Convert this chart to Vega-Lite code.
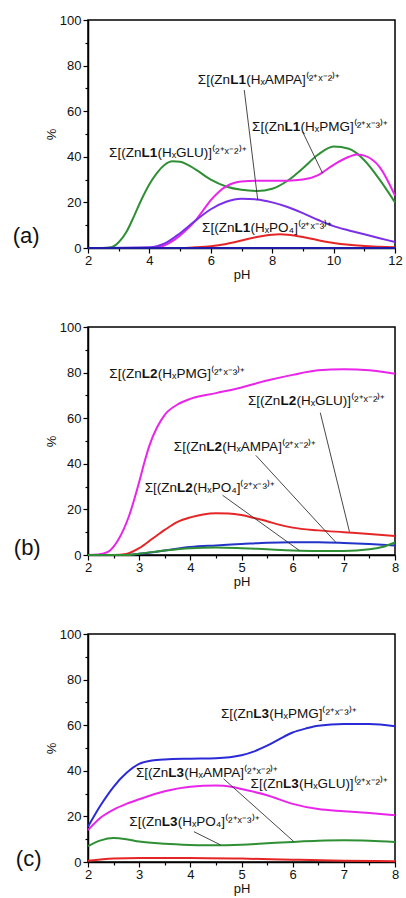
{
  "$schema": "https://vega.github.io/schema/vega-lite/v6.json",
  "padding": {"left": 12, "top": 13, "right": 2, "bottom": 2},
  "spacing": 38,
  "resolve": {"scale": {"color": "independent", "x": "independent", "y": "independent"}},
  "config": {
    "font": "Liberation Sans",
    "view": {"stroke": "#000", "strokeWidth": 1.5},
    "axis": {"domainColor": "#000", "domainWidth": 1.5, "tickColor": "#000", "tickWidth": 1.2, "labelFont": "Liberation Sans", "labelFontSize": 13, "labelColor": "#111", "titleFont": "Liberation Sans", "titleFontSize": 13, "titleFontWeight": "normal", "titleColor": "#111", "grid": false, "labelFlush": false, "labelOverlap": false},
    "axisX": {"labelPadding": 1, "titlePadding": 1},
    "axisY": {"labelPadding": 2, "titlePadding": 1},
    "text": {"font": "Liberation Sans", "color": "#111", "baseline": "alphabetic"}
  },
  "datasets": {
    "curvesA": [
      {"s": "GLU", "pH": 2, "pct": 0}, {"s": "GLU", "pH": 2.5, "pct": 0}, {"s": "GLU", "pH": 2.75, "pct": 0.3}, {"s": "GLU", "pH": 3, "pct": 2.5}, {"s": "GLU", "pH": 3.25, "pct": 7}, {"s": "GLU", "pH": 3.5, "pct": 14}, {"s": "GLU", "pH": 3.75, "pct": 21.5}, {"s": "GLU", "pH": 4, "pct": 28}, {"s": "GLU", "pH": 4.25, "pct": 33}, {"s": "GLU", "pH": 4.5, "pct": 36.5}, {"s": "GLU", "pH": 4.75, "pct": 38}, {"s": "GLU", "pH": 5, "pct": 37.8}, {"s": "GLU", "pH": 5.25, "pct": 36.5}, {"s": "GLU", "pH": 5.5, "pct": 34.5}, {"s": "GLU", "pH": 6, "pct": 30}, {"s": "GLU", "pH": 6.5, "pct": 27}, {"s": "GLU", "pH": 7, "pct": 25.5}, {"s": "GLU", "pH": 7.5, "pct": 25}, {"s": "GLU", "pH": 8, "pct": 26}, {"s": "GLU", "pH": 8.5, "pct": 29.5}, {"s": "GLU", "pH": 9, "pct": 35}, {"s": "GLU", "pH": 9.5, "pct": 41}, {"s": "GLU", "pH": 10, "pct": 44.5}, {"s": "GLU", "pH": 10.5, "pct": 43.5}, {"s": "GLU", "pH": 11, "pct": 38.5}, {"s": "GLU", "pH": 11.5, "pct": 30}, {"s": "GLU", "pH": 12, "pct": 20},
      {"s": "PMG", "pH": 2, "pct": 0}, {"s": "PMG", "pH": 4, "pct": 0}, {"s": "PMG", "pH": 4.25, "pct": 0.3}, {"s": "PMG", "pH": 4.5, "pct": 1.2}, {"s": "PMG", "pH": 4.75, "pct": 3}, {"s": "PMG", "pH": 5, "pct": 5.5}, {"s": "PMG", "pH": 5.25, "pct": 8.5}, {"s": "PMG", "pH": 5.5, "pct": 12}, {"s": "PMG", "pH": 5.75, "pct": 16.5}, {"s": "PMG", "pH": 6, "pct": 21}, {"s": "PMG", "pH": 6.25, "pct": 24.5}, {"s": "PMG", "pH": 6.5, "pct": 27}, {"s": "PMG", "pH": 6.75, "pct": 28.5}, {"s": "PMG", "pH": 7, "pct": 29.2}, {"s": "PMG", "pH": 7.5, "pct": 29.5}, {"s": "PMG", "pH": 8, "pct": 29.5}, {"s": "PMG", "pH": 8.5, "pct": 29.5}, {"s": "PMG", "pH": 9, "pct": 30}, {"s": "PMG", "pH": 9.5, "pct": 32}, {"s": "PMG", "pH": 10, "pct": 36.5}, {"s": "PMG", "pH": 10.5, "pct": 40}, {"s": "PMG", "pH": 10.75, "pct": 41}, {"s": "PMG", "pH": 11, "pct": 40.5}, {"s": "PMG", "pH": 11.5, "pct": 35.5}, {"s": "PMG", "pH": 12, "pct": 23},
      {"s": "AMPA", "pH": 2, "pct": 0}, {"s": "AMPA", "pH": 4, "pct": 0.3}, {"s": "AMPA", "pH": 4.5, "pct": 2}, {"s": "AMPA", "pH": 5, "pct": 6.5}, {"s": "AMPA", "pH": 5.5, "pct": 12}, {"s": "AMPA", "pH": 6, "pct": 17}, {"s": "AMPA", "pH": 6.5, "pct": 20.3}, {"s": "AMPA", "pH": 7, "pct": 21.6}, {"s": "AMPA", "pH": 7.5, "pct": 21.3}, {"s": "AMPA", "pH": 8, "pct": 20}, {"s": "AMPA", "pH": 8.5, "pct": 18}, {"s": "AMPA", "pH": 9, "pct": 15.3}, {"s": "AMPA", "pH": 9.5, "pct": 12.3}, {"s": "AMPA", "pH": 10, "pct": 9.6}, {"s": "AMPA", "pH": 10.5, "pct": 7.7}, {"s": "AMPA", "pH": 11, "pct": 6}, {"s": "AMPA", "pH": 11.5, "pct": 4.3}, {"s": "AMPA", "pH": 12, "pct": 2.6},
      {"s": "PO4", "pH": 2, "pct": 0}, {"s": "PO4", "pH": 5, "pct": 0}, {"s": "PO4", "pH": 5.5, "pct": 0.3}, {"s": "PO4", "pH": 6, "pct": 0.8}, {"s": "PO4", "pH": 6.5, "pct": 1.8}, {"s": "PO4", "pH": 7, "pct": 3.3}, {"s": "PO4", "pH": 7.5, "pct": 4.8}, {"s": "PO4", "pH": 8, "pct": 5.8}, {"s": "PO4", "pH": 8.25, "pct": 6}, {"s": "PO4", "pH": 8.5, "pct": 5.8}, {"s": "PO4", "pH": 9, "pct": 4.8}, {"s": "PO4", "pH": 9.5, "pct": 3.4}, {"s": "PO4", "pH": 10, "pct": 2.2}, {"s": "PO4", "pH": 10.5, "pct": 1.4}, {"s": "PO4", "pH": 11, "pct": 0.9}, {"s": "PO4", "pH": 11.5, "pct": 0.5}, {"s": "PO4", "pH": 12, "pct": 0.3},
      {"s": "other", "pH": 2, "pct": 0}, {"s": "other", "pH": 7, "pct": 0}, {"s": "other", "pH": 12, "pct": 0}
    ],
    "curvesB": [
      {"s": "PMG", "pH": 2, "pct": 0}, {"s": "PMG", "pH": 2.2, "pct": 0.2}, {"s": "PMG", "pH": 2.4, "pct": 1.5}, {"s": "PMG", "pH": 2.6, "pct": 7}, {"s": "PMG", "pH": 2.8, "pct": 17}, {"s": "PMG", "pH": 3, "pct": 32}, {"s": "PMG", "pH": 3.1, "pct": 40.5}, {"s": "PMG", "pH": 3.2, "pct": 48}, {"s": "PMG", "pH": 3.35, "pct": 56}, {"s": "PMG", "pH": 3.5, "pct": 61.5}, {"s": "PMG", "pH": 3.75, "pct": 66}, {"s": "PMG", "pH": 4, "pct": 68.5}, {"s": "PMG", "pH": 4.5, "pct": 71}, {"s": "PMG", "pH": 5, "pct": 73.5}, {"s": "PMG", "pH": 5.5, "pct": 76.5}, {"s": "PMG", "pH": 6, "pct": 79}, {"s": "PMG", "pH": 6.5, "pct": 81}, {"s": "PMG", "pH": 7, "pct": 81.5}, {"s": "PMG", "pH": 7.5, "pct": 81}, {"s": "PMG", "pH": 8, "pct": 79.5},
      {"s": "GLU", "pH": 2, "pct": 0}, {"s": "GLU", "pH": 2.5, "pct": 0}, {"s": "GLU", "pH": 2.75, "pct": 0.5}, {"s": "GLU", "pH": 3, "pct": 3}, {"s": "GLU", "pH": 3.25, "pct": 7}, {"s": "GLU", "pH": 3.5, "pct": 11}, {"s": "GLU", "pH": 3.75, "pct": 14.5}, {"s": "GLU", "pH": 4, "pct": 16.5}, {"s": "GLU", "pH": 4.25, "pct": 17.8}, {"s": "GLU", "pH": 4.5, "pct": 18.3}, {"s": "GLU", "pH": 4.75, "pct": 18.2}, {"s": "GLU", "pH": 5, "pct": 17.5}, {"s": "GLU", "pH": 5.25, "pct": 16.2}, {"s": "GLU", "pH": 5.5, "pct": 14.8}, {"s": "GLU", "pH": 5.75, "pct": 13.2}, {"s": "GLU", "pH": 6, "pct": 12}, {"s": "GLU", "pH": 6.5, "pct": 10.8}, {"s": "GLU", "pH": 7, "pct": 10}, {"s": "GLU", "pH": 7.5, "pct": 9.2}, {"s": "GLU", "pH": 8, "pct": 8.3},
      {"s": "AMPA", "pH": 2, "pct": 0}, {"s": "AMPA", "pH": 2.75, "pct": 0}, {"s": "AMPA", "pH": 3, "pct": 0.5}, {"s": "AMPA", "pH": 3.5, "pct": 2}, {"s": "AMPA", "pH": 4, "pct": 3.5}, {"s": "AMPA", "pH": 4.5, "pct": 4.2}, {"s": "AMPA", "pH": 5, "pct": 4.8}, {"s": "AMPA", "pH": 5.5, "pct": 5.4}, {"s": "AMPA", "pH": 6, "pct": 5.6}, {"s": "AMPA", "pH": 6.5, "pct": 5.6}, {"s": "AMPA", "pH": 7, "pct": 5.3}, {"s": "AMPA", "pH": 7.5, "pct": 4.8}, {"s": "AMPA", "pH": 8, "pct": 4.2},
      {"s": "PO4", "pH": 2, "pct": 0}, {"s": "PO4", "pH": 2.75, "pct": 0}, {"s": "PO4", "pH": 3, "pct": 0.6}, {"s": "PO4", "pH": 3.5, "pct": 2}, {"s": "PO4", "pH": 4, "pct": 3}, {"s": "PO4", "pH": 4.5, "pct": 3.3}, {"s": "PO4", "pH": 5, "pct": 3}, {"s": "PO4", "pH": 5.5, "pct": 2.5}, {"s": "PO4", "pH": 6, "pct": 2}, {"s": "PO4", "pH": 6.5, "pct": 1.8}, {"s": "PO4", "pH": 7, "pct": 1.8}, {"s": "PO4", "pH": 7.5, "pct": 2.5}, {"s": "PO4", "pH": 7.75, "pct": 3.5}, {"s": "PO4", "pH": 8, "pct": 5.5}
    ],
    "curvesC": [
      {"s": "PMG", "pH": 2, "pct": 15.5}, {"s": "PMG", "pH": 2.25, "pct": 25}, {"s": "PMG", "pH": 2.5, "pct": 33}, {"s": "PMG", "pH": 2.75, "pct": 39}, {"s": "PMG", "pH": 3, "pct": 43}, {"s": "PMG", "pH": 3.25, "pct": 44.5}, {"s": "PMG", "pH": 3.5, "pct": 45}, {"s": "PMG", "pH": 4, "pct": 45.3}, {"s": "PMG", "pH": 4.5, "pct": 45.5}, {"s": "PMG", "pH": 5, "pct": 46.8}, {"s": "PMG", "pH": 5.25, "pct": 48.5}, {"s": "PMG", "pH": 5.5, "pct": 51}, {"s": "PMG", "pH": 5.75, "pct": 54}, {"s": "PMG", "pH": 6, "pct": 56.8}, {"s": "PMG", "pH": 6.25, "pct": 58.5}, {"s": "PMG", "pH": 6.5, "pct": 59.8}, {"s": "PMG", "pH": 7, "pct": 60.5}, {"s": "PMG", "pH": 7.5, "pct": 60.5}, {"s": "PMG", "pH": 8, "pct": 59.5},
      {"s": "GLU", "pH": 2, "pct": 14}, {"s": "GLU", "pH": 2.25, "pct": 19.5}, {"s": "GLU", "pH": 2.5, "pct": 23}, {"s": "GLU", "pH": 2.75, "pct": 25.5}, {"s": "GLU", "pH": 3, "pct": 27.5}, {"s": "GLU", "pH": 3.5, "pct": 31}, {"s": "GLU", "pH": 4, "pct": 33}, {"s": "GLU", "pH": 4.5, "pct": 33.5}, {"s": "GLU", "pH": 4.8, "pct": 33}, {"s": "GLU", "pH": 5, "pct": 32}, {"s": "GLU", "pH": 5.5, "pct": 29.3}, {"s": "GLU", "pH": 6, "pct": 25.5}, {"s": "GLU", "pH": 6.5, "pct": 23.2}, {"s": "GLU", "pH": 7, "pct": 22.3}, {"s": "GLU", "pH": 7.5, "pct": 21.5}, {"s": "GLU", "pH": 8, "pct": 20.5},
      {"s": "AMPA", "pH": 2, "pct": 7}, {"s": "AMPA", "pH": 2.25, "pct": 9.5}, {"s": "AMPA", "pH": 2.5, "pct": 10.5}, {"s": "AMPA", "pH": 2.75, "pct": 10}, {"s": "AMPA", "pH": 3, "pct": 9}, {"s": "AMPA", "pH": 3.5, "pct": 8}, {"s": "AMPA", "pH": 4, "pct": 7.5}, {"s": "AMPA", "pH": 4.5, "pct": 7.3}, {"s": "AMPA", "pH": 5, "pct": 7.6}, {"s": "AMPA", "pH": 5.5, "pct": 8.2}, {"s": "AMPA", "pH": 6, "pct": 8.8}, {"s": "AMPA", "pH": 6.5, "pct": 9.3}, {"s": "AMPA", "pH": 7, "pct": 9.5}, {"s": "AMPA", "pH": 7.5, "pct": 9.3}, {"s": "AMPA", "pH": 8, "pct": 8.8},
      {"s": "PO4", "pH": 2, "pct": 0.5}, {"s": "PO4", "pH": 2.5, "pct": 1.5}, {"s": "PO4", "pH": 3, "pct": 1.8}, {"s": "PO4", "pH": 4, "pct": 1.8}, {"s": "PO4", "pH": 5, "pct": 1.5}, {"s": "PO4", "pH": 6, "pct": 1}, {"s": "PO4", "pH": 7, "pct": 0.6}, {"s": "PO4", "pH": 8, "pct": 0.3}
    ],
    "labelsA": [
      {"pre": "Σ[(Zn", "bold": "L1", "post": "(HₓGLU)]⁽²⁺ˣ⁻²⁾⁺", "pH": 3.74, "pct": 39.8},
      {"pre": "Σ[(Zn", "bold": "L1", "post": "(HₓAMPA]⁽²⁺ˣ⁻²⁾⁺", "pH": 6.63, "pct": 71.9},
      {"pre": "Σ[(Zn", "bold": "L1", "post": "(HₓPMG]⁽²⁺ˣ⁻³⁾⁺", "pH": 8.4, "pct": 51.5},
      {"pre": "Σ[(Zn", "bold": "L1", "post": "(HₓPO₄]⁽²⁺ˣ⁻³⁾⁺", "pH": 6.77, "pct": 7}
    ],
    "labelsB": [
      {"pre": "Σ[(Zn", "bold": "L2", "post": "(HₓPMG]⁽²⁺ˣ⁻³⁾⁺", "pH": 3.05, "pct": 77.5},
      {"pre": "Σ[(Zn", "bold": "L2", "post": "(HₓGLU)]⁽²⁺ˣ⁻²⁾⁺", "pH": 5.76, "pct": 65.6},
      {"pre": "Σ[(Zn", "bold": "L2", "post": "(HₓAMPA]⁽²⁺ˣ⁻²⁾⁺", "pH": 4.31, "pct": 45.4},
      {"pre": "Σ[(Zn", "bold": "L2", "post": "(HₓPO₄]⁽²⁺ˣ⁻³⁾⁺", "pH": 3.74, "pct": 27.6}
    ],
    "labelsC": [
      {"pre": "Σ[(Zn", "bold": "L3", "post": "(HₓPMG]⁽²⁺ˣ⁻³⁾⁺", "pH": 5.23, "pct": 63},
      {"pre": "Σ[(Zn", "bold": "L3", "post": "(HₓAMPA]⁽²⁺ˣ⁻²⁾⁺", "pH": 3.57, "pct": 37.5},
      {"pre": "Σ[(Zn", "bold": "L3", "post": "(HₓGLU)]⁽²⁺ˣ⁻²⁾⁺", "pH": 5.81, "pct": 32.5},
      {"pre": "Σ[(Zn", "bold": "L3", "post": "(HₓPO₄]⁽²⁺ˣ⁻³⁾⁺", "pH": 3.44, "pct": 16}
    ],
    "tags": [
      {"panel": "a", "tag": "(a)", "pH": -0.45, "pct": 2.2},
      {"panel": "b", "tag": "(b)", "pH": 0.55, "pct": 0},
      {"panel": "c", "tag": "(c)", "pH": 0.59, "pct": -1.6}
    ],
    "leadersA": [
      {"pH": 7.09, "pct": 69.3, "pH2": 7.53, "pct2": 21},
      {"pH": 8.99, "pct": 51, "pH2": 9.64, "pct2": 32.8}
    ],
    "leadersB": [
      {"pH": 6.54, "pct": 62.4, "pH2": 7.11, "pct2": 10.2},
      {"pH": 5.28, "pct": 43.7, "pH2": 6.85, "pct2": 5.4},
      {"pH": 4.63, "pct": 26.2, "pH2": 6.13, "pct2": 2}
    ],
    "leadersC": [
      {"pH": 4.65, "pct": 36.5, "pH2": 6.02, "pct2": 9},
      {"pH": 4.07, "pct": 13.3, "pH2": 4.59, "pct2": 7.5}
    ]
  },
  "vconcat": [
    {
      "width": 307, "height": 228,
      "encoding": {
        "x": {"field": "pH", "type": "quantitative", "title": "pH", "scale": {"domain": [2, 12], "nice": false, "zero": false},
          "axis": {"values": [2, 3, 4, 5, 6, 7, 8, 9, 10, 11, 12], "format": "d", "labelExpr": "datum.value % 2 === 0 ? datum.label : ''", "tickSize": {"condition": {"test": "datum.value % 2 === 0", "value": 5}, "value": 3}}},
        "y": {"field": "pct", "type": "quantitative", "title": "%", "scale": {"domain": [0, 100], "nice": false},
          "axis": {"values": [0, 10, 20, 30, 40, 50, 60, 70, 80, 90, 100], "format": "d", "labelExpr": "datum.value % 20 === 0 ? datum.label : ''", "tickSize": {"condition": {"test": "datum.value % 20 === 0", "value": 5}, "value": 3}}}
      },
      "layer": [
        {"data": {"name": "curvesA"}, "mark": {"type": "line", "interpolate": "monotone", "strokeWidth": 2},
          "encoding": {"color": {"field": "s", "type": "nominal", "legend": null, "scale": {"domain": ["PMG", "GLU", "AMPA", "PO4", "other"], "range": ["#e825e8", "#2f8f34", "#7a30e8", "#e62626", "#1c1ca8"]}}}},
        {"data": {"name": "leadersA"}, "mark": {"type": "rule", "color": "#333", "strokeWidth": 0.9},
          "encoding": {"x2": {"field": "pH2"}, "y2": {"field": "pct2"}}},
        {"data": {"name": "labelsA"}, "mark": {"type": "text", "align": "right", "fontSize": 13.5}, "encoding": {"text": {"field": "pre"}}},
        {"data": {"name": "labelsA"}, "mark": {"type": "text", "align": "left", "fontSize": 13.5, "fontWeight": "bold"}, "encoding": {"text": {"field": "bold"}}},
        {"data": {"name": "labelsA"}, "mark": {"type": "text", "align": "left", "fontSize": 13.5, "dx": 16}, "encoding": {"text": {"field": "post"}}},
        {"data": {"name": "tags"}, "transform": [{"filter": "datum.panel === 'a'"}], "mark": {"type": "text", "align": "left", "fontSize": 22},
          "encoding": {"text": {"field": "tag"}}}
      ]
    },
    {
      "width": 307, "height": 228,
      "encoding": {
        "x": {"field": "pH", "type": "quantitative", "title": "pH", "scale": {"domain": [2, 8], "nice": false, "zero": false},
          "axis": {"values": [2, 2.5, 3, 3.5, 4, 4.5, 5, 5.5, 6, 6.5, 7, 7.5, 8], "format": "~g", "labelExpr": "datum.value % 1 === 0 ? datum.label : ''", "tickSize": {"condition": {"test": "datum.value % 1 === 0", "value": 5}, "value": 3}}},
        "y": {"field": "pct", "type": "quantitative", "title": "%", "scale": {"domain": [0, 100], "nice": false},
          "axis": {"values": [0, 10, 20, 30, 40, 50, 60, 70, 80, 90, 100], "format": "d", "labelExpr": "datum.value % 20 === 0 ? datum.label : ''", "tickSize": {"condition": {"test": "datum.value % 20 === 0", "value": 5}, "value": 3}}}
      },
      "layer": [
        {"data": {"name": "curvesB"}, "mark": {"type": "line", "interpolate": "monotone", "strokeWidth": 2},
          "encoding": {"color": {"field": "s", "type": "nominal", "legend": null, "scale": {"domain": ["PMG", "GLU", "AMPA", "PO4"], "range": ["#e825e8", "#e62626", "#2233c8", "#2f8f34"]}}}},
        {"data": {"name": "leadersB"}, "mark": {"type": "rule", "color": "#333", "strokeWidth": 0.9},
          "encoding": {"x2": {"field": "pH2"}, "y2": {"field": "pct2"}}},
        {"data": {"name": "labelsB"}, "mark": {"type": "text", "align": "right", "fontSize": 13.5}, "encoding": {"text": {"field": "pre"}}},
        {"data": {"name": "labelsB"}, "mark": {"type": "text", "align": "left", "fontSize": 13.5, "fontWeight": "bold"}, "encoding": {"text": {"field": "bold"}}},
        {"data": {"name": "labelsB"}, "mark": {"type": "text", "align": "left", "fontSize": 13.5, "dx": 16}, "encoding": {"text": {"field": "post"}}},
        {"data": {"name": "tags"}, "transform": [{"filter": "datum.panel === 'b'"}], "mark": {"type": "text", "align": "left", "fontSize": 22},
          "encoding": {"text": {"field": "tag"}}}
      ]
    },
    {
      "width": 307, "height": 228,
      "encoding": {
        "x": {"field": "pH", "type": "quantitative", "title": "pH", "scale": {"domain": [2, 8], "nice": false, "zero": false},
          "axis": {"values": [2, 2.5, 3, 3.5, 4, 4.5, 5, 5.5, 6, 6.5, 7, 7.5, 8], "format": "~g", "labelExpr": "datum.value % 1 === 0 ? datum.label : ''", "tickSize": {"condition": {"test": "datum.value % 1 === 0", "value": 5}, "value": 3}}},
        "y": {"field": "pct", "type": "quantitative", "title": "%", "scale": {"domain": [0, 100], "nice": false},
          "axis": {"values": [0, 10, 20, 30, 40, 50, 60, 70, 80, 90, 100], "format": "d", "labelExpr": "datum.value % 20 === 0 ? datum.label : ''", "tickSize": {"condition": {"test": "datum.value % 20 === 0", "value": 5}, "value": 3}}}
      },
      "layer": [
        {"data": {"name": "curvesC"}, "mark": {"type": "line", "interpolate": "monotone", "strokeWidth": 2},
          "encoding": {"color": {"field": "s", "type": "nominal", "legend": null, "scale": {"domain": ["PMG", "GLU", "AMPA", "PO4"], "range": ["#2a2ad6", "#e825e8", "#2f8f34", "#e62626"]}}}},
        {"data": {"name": "leadersC"}, "mark": {"type": "rule", "color": "#333", "strokeWidth": 0.9},
          "encoding": {"x2": {"field": "pH2"}, "y2": {"field": "pct2"}}},
        {"data": {"name": "labelsC"}, "mark": {"type": "text", "align": "right", "fontSize": 13.5}, "encoding": {"text": {"field": "pre"}}},
        {"data": {"name": "labelsC"}, "mark": {"type": "text", "align": "left", "fontSize": 13.5, "fontWeight": "bold"}, "encoding": {"text": {"field": "bold"}}},
        {"data": {"name": "labelsC"}, "mark": {"type": "text", "align": "left", "fontSize": 13.5, "dx": 16}, "encoding": {"text": {"field": "post"}}},
        {"data": {"name": "tags"}, "transform": [{"filter": "datum.panel === 'c'"}], "mark": {"type": "text", "align": "left", "fontSize": 22},
          "encoding": {"text": {"field": "tag"}}}
      ]
    }
  ]
}
